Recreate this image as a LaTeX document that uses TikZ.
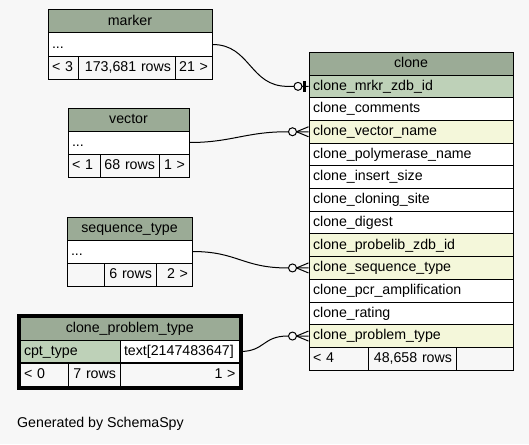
\documentclass[tikz,border=0pt]{standalone}
\usepackage{fontspec}
\setmainfont{Liberation Sans}
\usetikzlibrary{positioning}
\definecolor{pagebg}{HTML}{F7F7F7}
\definecolor{headbg}{HTML}{9BAB96}
\definecolor{pkey}{HTML}{BED1B8}
\definecolor{fkey}{HTML}{F4F7DA}

\begin{document}
\begin{tikzpicture}[x=1pt, y=-1pt,
		cell/.style={draw=black, line width=1pt, minimum height=22.7pt, inner xsep=4pt, inner ysep=0pt,
		             align=left, fill=white, font=\fontsize{14.2}{16}\selectfont, text height=10.5pt, text depth=3pt},
		head/.style={cell, fill=headbg, align=center},
		foot/.style={cell, fill=pagebg},
		link/.style={line width=1pt},
		zeroone/.pic={\draw[line width=1pt, fill=pagebg] (-10.5,0) circle (4);
		              \draw[line width=2.5pt] (-4,-5.5) -- (-4,5.5);},
		zeromany/.pic={\draw[line width=1pt] (-12,0) -- (0,-5) (-12,0) -- (0,5);
		               \draw[line width=1pt, fill=pagebg] (-16,0) circle (4);}]
		\fill[pagebg] (0,0) rectangle (529,444);
		\useasboundingbox (0,0) rectangle (529,444);
		\node[head, text width=156pt, minimum height=23pt] (mkhead) at (130,21.5) {marker};
		\node[cell, text width=156pt, minimum height=23pt] (mkdots) at (130,44.5) {...};
		\node[foot, text width=22pt, minimum height=23pt] (mkpar) at (63,67.5) {< 3};
		\node[foot, text width=89pt, minimum height=23pt, align=right] (mkrows) at (126.5,67.5) {173,681 rows};
		\node[foot, text width=29pt, minimum height=23pt, align=right] (mkkids) at (193.5,67.5) {21 >};
		\node[head, text width=113pt, minimum height=23pt] (vchead) at (128.5,119.5) {vector};
		\node[cell, text width=113pt, minimum height=23pt] (vcdots) at (128.5,142.5) {...};
		\node[foot, text width=24pt, minimum height=23pt] (vcpar) at (84,165.5) {< 1};
		\node[foot, text width=51pt, minimum height=23pt, align=right] (vcrows) at (129.5,165.5) {68 rows};
		\node[foot, text width=22pt, minimum height=23pt, align=right] (vckids) at (174,165.5) {1 >};
		\node[head, text width=117pt, minimum height=23pt] (sqhead) at (129.5,228.5) {sequence\_type};
		\node[cell, text width=117pt, minimum height=23pt] (sqdots) at (129.5,251.5) {...};
		\node[foot, text width=29pt, minimum height=23pt] (sqpar) at (85.5,274.5) {};
		\node[foot, text width=44pt, minimum height=23pt, align=right] (sqrows) at (130,274.5) {6 rows};
		\node[foot, text width=28pt, minimum height=23pt, align=right] (sqkids) at (174,274.5) {2 >};
		\node[head, text width=211.5pt, minimum height=22.5pt] (cphead) at (129.75,328.75) {clone\_problem\_type};
		\node[cell, text width=92pt, fill=pkey] (cpkey) at (70,351.5) {cpt\_type};
		\node[cell, text width=111.5pt] (cptype) at (179.75,351.5) {text[2147483647]};
		\node[foot, text width=40pt] (cppar) at (44,374.75) {< 0};
		\node[foot, text width=44pt, align=right] (cprows) at (94,374.75) {7 rows};
		\node[foot, text width=111.5pt, align=right] (cpkids) at (179.75,374.75) {1 >};
		\draw[line width=3pt] ([shift={(-1.5,-1.5)}]cphead.north west) rectangle ([shift={(1.5,1.5)}]cpkids.south east);
		\node[head, text width=196pt, minimum height=23pt] (clhead) at (411,63.5) {clone};
		\foreach \i/\nm/\fl in {0/clone\_mrkr\_zdb\_id/pkey, 1/clone\_comments/white, 2/clone\_vector\_name/fkey,
				3/clone\_polymerase\_name/white, 4/clone\_insert\_size/white, 5/clone\_cloning\_site/white,
				6/clone\_digest/white, 7/clone\_probelib\_zdb\_id/fkey, 8/clone\_sequence\_type/fkey,
				9/clone\_pcr\_amplification/white, 10/clone\_rating/white, 11/clone\_problem\_type/fkey}
			\node[cell, text width=196pt, fill=\fl] (c\i) at (411, 86.35+22.7*\i) {\nm};
		\node[foot, text width=51pt] (clpar) at (338.5,358.75) {< 4};
		\node[foot, text width=80pt, align=right] (clrows) at (412,358.75) {48,658 rows};
		\node[foot, text width=49pt, align=right] (clkids) at (484.5,358.75) {};
		\draw[link] (mkdots.east) .. controls +(38,0) and +(-38,0) .. ([xshift=-21pt]c0.west) -- (c0.west);
		\draw[link] (vcdots.east) .. controls +(42,0) and +(-42,0) .. ([xshift=-21pt]c2.west) -- (c2.west);
		\draw[link] (sqdots.east) .. controls +(45,0) and +(-45,0) .. ([xshift=-21pt]c8.west) -- (c8.west);
		\draw[link] (cptype.east) .. controls +(25,0) and +(-25,0) .. ([xshift=-21pt]c11.west) -- (c11.west);
		\pic at (c0.west) {zeroone};
		\pic at (c2.west) {zeromany};
		\pic at (c8.west) {zeromany};
		\pic at (c11.west) {zeromany};
		\node[font=\fontsize{14.2}{16}\selectfont, anchor=west, inner sep=0pt] (credit) at (17,424) {Generated by SchemaSpy};
	\end{tikzpicture}
\end{document}
